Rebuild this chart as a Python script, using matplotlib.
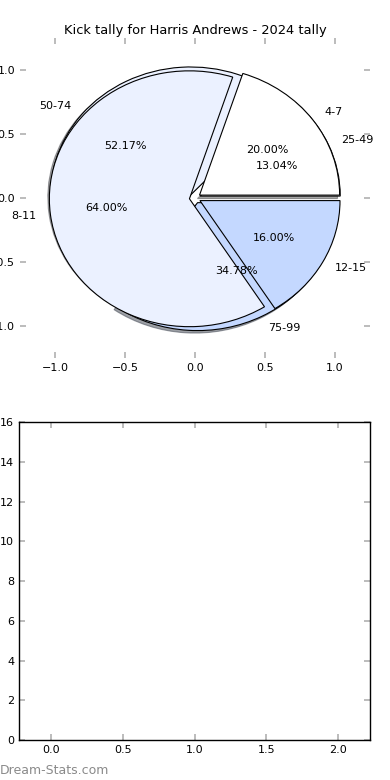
import matplotlib
matplotlib.use("Agg")
import matplotlib.pyplot as plt

# kick tally, two overlaid pies
labels_a = ['4-7', '8-11', '12-15']
values_a = [5, 16, 4]
labels_b = ['25-49', '50-74', '75-99']
values_b = [3, 12, 8]
colors = ['#ffffff', '#ebf1ff', '#c4d8ff']

title = 'Kick tally for Harris Andrews - 2024 tally'

plt.rcParams['font.family'] = 'DejaVu Sans'
plt.rcParams['font.size'] = 8

fig = plt.figure(figsize=(3.9, 7.8), dpi=100)
ax1 = fig.add_axes([0.051, 0.541, 0.898, 0.410])
ax2 = fig.add_axes([0.049, 0.051, 0.900, 0.408])

wp = {'edgecolor': 'black', 'linewidth': 0.8}
# second pie underneath with a shadow, first pie on top
ax1.pie(values_b, labels=labels_b, colors=colors, autopct='%.2f%%',
        explode=[0.04] * 3, shadow={'ox': -0.014, 'oy': -0.014},
        wedgeprops=wp, textprops={'fontsize': 8})
ax1.pie(values_a, labels=labels_a, colors=colors, autopct='%.2f%%',
        explode=[0.04] * 3, shadow=False, wedgeprops=wp,
        textprops={'fontsize': 8})
ax1.set_aspect('auto')
ax1.set_xlim(-1.25, 1.25)
ax1.set_ylim(-1.25, 1.25)
ticks = [-1.0, -0.5, 0.0, 0.5, 1.0]
ax1.set_xticks(ticks)
ax1.set_yticks(ticks)
ax1.set_title(title, fontsize=9.4, pad=3)

ax2.set_xlim(-0.225, 2.225)
ax2.set_ylim(0, 16)
ax2.set_xticks([0.0, 0.5, 1.0, 1.5, 2.0])
ax2.set_yticks(range(0, 17, 2))

for ax in (ax1, ax2):
    ax.tick_params(direction='in', top=True, right=True, color='#b0b0b0',
                   labelcolor='black', labelsize=8, length=4, width=1.2)
for s in ax2.spines.values():
    s.set_linewidth(1.0)

fig.text(0.0, 1 - 770 / 780, 'Dream-Stats.com', color='#8a8a8a',
         fontsize=9, va='center', ha='left')

fig.savefig('out.png', dpi=100)
